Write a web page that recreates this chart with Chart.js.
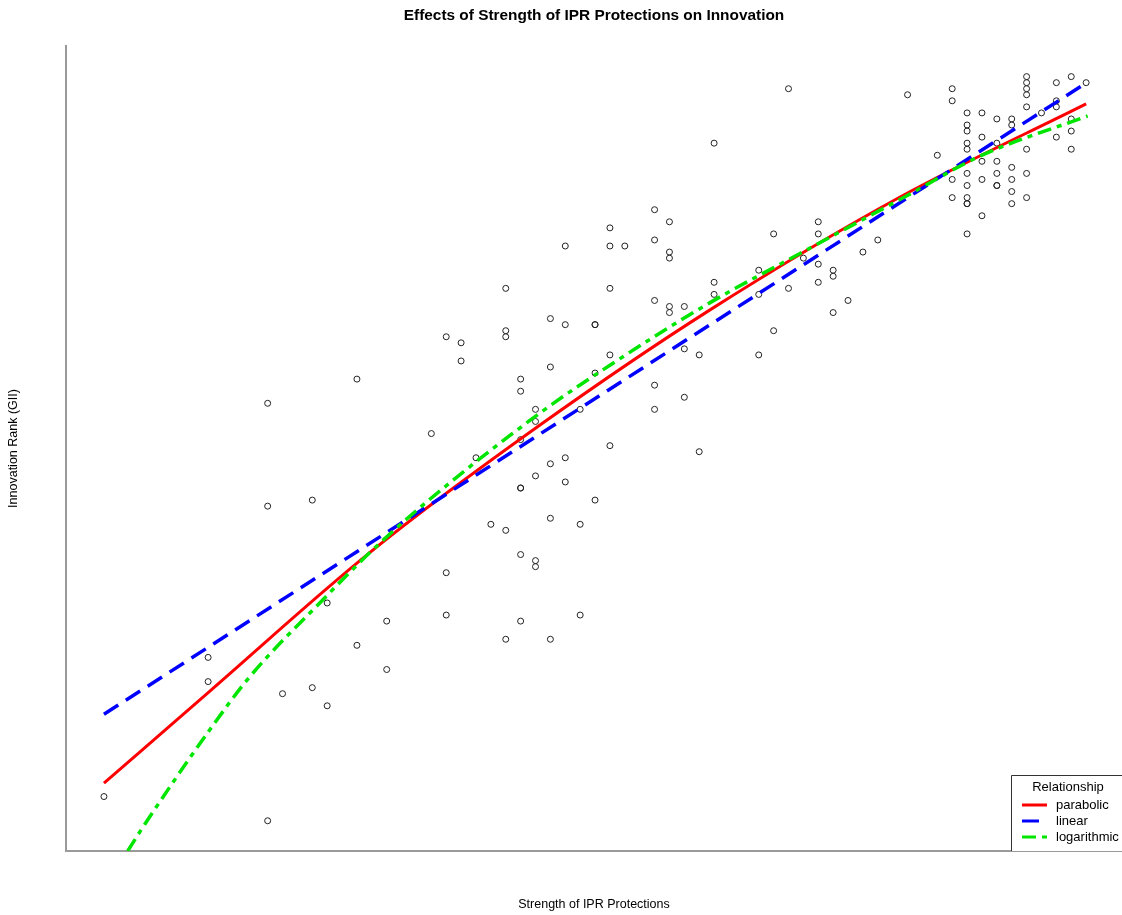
<!DOCTYPE html>
<html>
<head>
<meta charset="utf-8">
<title>Effects of Strength of IPR Protections on Innovation</title>
<script src="https://cdn.jsdelivr.net/npm/chart.js@4.4.1/dist/chart.umd.min.js"></script>
<style>
  html, body { margin: 0; padding: 0; background: #fff; }
  #wrap { width: 1122px; height: 915px; }
</style>
</head>
<body>
<div id="wrap"><canvas id="iprChart" width="1122" height="915"></canvas></div>
<script>
// IPR strength levels and the GII scores observed at each level
var iprLevels = [2.6, 3.3, 3.7, 3.8, 4.0, 4.1, 4.3, 4.5, 4.8, 4.9, 5.0, 5.1, 5.2, 5.3, 5.4, 5.5, 5.6, 5.7, 5.8, 5.9,
                 6.0, 6.1, 6.3, 6.4, 6.5, 6.6, 6.7, 7.0, 7.1, 7.2, 7.3, 7.4, 7.5, 7.6, 7.7, 7.8, 8.0, 8.2, 8.3, 8.4,
                 8.5, 8.6, 8.7, 8.8, 8.9, 9.0, 9.1, 9.2];
var giiByLevel = [
  [9], [32, 28], [74, 57, 5], [26], [58, 27], [41, 24], [78, 34], [38, 30], [69], [85, 46, 39],
  [84, 81], [65], [54], [93, 86, 85, 53, 35], [78, 76, 68, 60, 60, 49, 38], [73, 71, 62, 48, 47],
  [88, 80, 64, 55, 35], [100, 87, 65, 61], [73, 54, 39], [87, 87, 79, 58],
  [103, 100, 93, 82, 67], [100], [106, 101, 91, 77, 73], [104, 99, 98, 90, 89], [90, 83, 75], [82, 66],
  [117, 94, 92], [96, 92, 82], [102, 86], [126, 93], [98], [104, 102, 97, 94], [96, 95, 89], [91], [99], [101],
  [125], [115], [126, 124, 111, 108], [122, 120, 119, 117, 116, 112, 110, 108, 107, 107, 102],
  [122, 118, 114, 111, 105], [121, 117, 114, 112, 110, 110], [121, 120, 113, 111, 109, 107],
  [128, 127, 126, 125, 123, 116, 112, 108], [122], [127, 124, 123, 118], [128, 121, 119, 116], [127]
];

// fitted curves
var parabolicX = [2.6, 3.31, 4.39, 5.53, 6.67, 7.95, 9.2];
var parabolicY = [11.2, 26.4, 49.4, 70.4, 89.4, 108.1, 123.5];
var linearX = [2.6, 9.21];
var linearY = [22.6, 127.1];
var logX = [2.76, 2.85, 3.31, 3.58, 4.07, 4.39, 4.72, 5.53, 6.0, 6.67, 7.28, 7.98, 8.49, 9.21];
var logY = [0, 3.5, 20.0, 28.8, 41.5, 49.4, 56.7, 72.4, 80.3, 90.6, 98.8, 108.1, 114.9, 121.5];

var chartTitle = 'Effects of Strength of IPR Protections on Innovation';
var xLabel = 'Strength of IPR Protections';
var yLabel = 'Innovation Rank (GII)';
var legendTitle = 'Relationship';

function toPoints(xs, ys) {
    return xs.map(function(x, i) { return {x: x, y: ys[i]}; });
}

var scatterPoints = [];
iprLevels.forEach(function(level, i) {
    giiByLevel[i].forEach(function(score) {
        scatterPoints.push({x: level, y: score});
    });
});

var fontFamily = '"Liberation Sans", Arial, Helvetica, sans-serif';

// title, axis labels and the R-style legend box
var rTextPlugin = {
    id: 'rText',
    afterDraw: function(chart) {
        var ctx = chart.ctx;
        var area = chart.chartArea;
        ctx.save();
        ctx.fillStyle = '#000';
        ctx.textAlign = 'center';
        ctx.textBaseline = 'middle';
        ctx.font = 'bold 15.4px ' + fontFamily;
        ctx.fillText(chartTitle, (area.left + area.right) / 2, 16);

        ctx.font = '12.5px ' + fontFamily;
        ctx.fillText(xLabel, (area.left + area.right) / 2, 905);
        ctx.save();
        ctx.translate(14, (area.top + area.bottom) / 2);
        ctx.rotate(-Math.PI / 2);
        ctx.fillText(yLabel, 0, 0);
        ctx.restore();

        // legend
        var boxLeft = 1011.5, boxTop = 775.5;
        ctx.fillStyle = '#fff';
        ctx.fillRect(boxLeft, boxTop, 140, area.bottom - boxTop);
        ctx.strokeStyle = '#333';
        ctx.lineWidth = 1;
        ctx.beginPath();
        ctx.moveTo(chart.width + 5, boxTop);
        ctx.lineTo(boxLeft, boxTop);
        ctx.lineTo(boxLeft, area.bottom);
        ctx.stroke();

        ctx.fillStyle = '#000';
        ctx.font = '13px ' + fontFamily;
        ctx.fillText(legendTitle, 1068, 787);
        var lines = chart.data.datasets.filter(function(ds) { return ds.showLine; });
        lines.forEach(function(ds, i) {
            var y = 805 + i * 16;
            ctx.save();
            ctx.strokeStyle = ds.borderColor;
            ctx.lineWidth = 3;
            ctx.setLineDash(ds.borderDash || []);
            ctx.beginPath();
            ctx.moveTo(1022, y);
            ctx.lineTo(1047, y);
            ctx.stroke();
            ctx.restore();
            ctx.textAlign = 'left';
            ctx.fillText(ds.label, 1056, y);
        });
        ctx.restore();
    }
};

var ctx = document.getElementById('iprChart').getContext('2d');
new Chart(ctx, {
    type: 'scatter',
    data: {
        datasets: [{
            label: 'parabolic',
            data: toPoints(parabolicX, parabolicY),
            showLine: true,
            borderColor: 'rgb(255, 0, 0)',
            borderWidth: 3,
            pointRadius: 0,
            cubicInterpolationMode: 'monotone',
            order: 3
        }, {
            label: 'linear',
            data: toPoints(linearX, linearY),
            showLine: true,
            borderColor: 'rgb(0, 0, 255)',
            borderWidth: 3.5,
            borderDash: [17, 9],
            pointRadius: 0,
            order: 2
        }, {
            label: 'logarithmic',
            data: toPoints(logX, logY),
            showLine: true,
            borderColor: 'rgb(0, 230, 0)',
            borderWidth: 3.5,
            borderDash: [14, 6, 5, 6],
            pointRadius: 0,
            cubicInterpolationMode: 'monotone',
            order: 1
        }, {
            label: 'countries',
            data: scatterPoints,
            showLine: false,
            pointRadius: 3,
            pointBorderWidth: 1,
            pointBorderColor: '#222',
            pointBackgroundColor: 'rgba(0,0,0,0)',
            order: 4
        }]
    },
    options: {
        responsive: false,
        animation: false,
        layout: {
            autoPadding: false,
            padding: {left: 66, top: 46, right: 0, bottom: 64}
        },
        scales: {
            x: {
                type: 'linear',
                min: 2.345,
                max: 9.441,
                grid: {display: false, drawTicks: false},
                ticks: {display: false},
                border: {display: true, color: '#9a9a9a', width: 2}
            },
            y: {
                type: 'linear',
                min: 0,
                max: 133.06,
                grid: {display: false, drawTicks: false},
                ticks: {display: false},
                border: {display: true, color: '#9a9a9a', width: 2}
            }
        },
        plugins: {
            legend: {display: false},
            tooltip: {enabled: false},
            title: {display: false}
        }
    },
    plugins: [rTextPlugin]
});
</script>
</body>
</html>
